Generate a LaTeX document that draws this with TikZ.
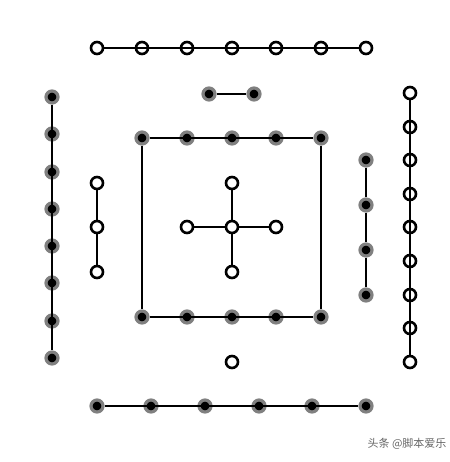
\documentclass[tikz,border=0pt]{standalone}
\usepackage{fontspec}
\newfontfamily\cjkfont{Noto Sans CJK SC}
\tikzset{
  wdot/.style={circle, draw=black, line width=2.6pt, fill=white, minimum size=12pt, inner sep=0pt},
  bdot/.style={circle, draw=black!50, line width=3.2pt, fill=black, minimum size=12pt, inner sep=0pt},
  link/.style={line width=1.4pt}
}
\begin{document}
\begin{tikzpicture}[x=1pt,y=-1pt]
\useasboundingbox (0,0) rectangle (449,462);

% top row, seven white
\foreach \x [count=\k] in {97,142,187,232,276,321,366}
  \node[wdot] (t\k) at (\x,48) {};
\draw[link] (t1) \foreach \k in {2,...,7} { -- (t\k) };

% pair of black
\node[bdot] (p1) at (209,94) {};
\node[bdot] (p2) at (254,94) {};
\draw[link] (p1) -- (p2);

% left column, eight black
\foreach \y [count=\k] in {97,134,172,209,246,283,321,358}
  \node[bdot] (l\k) at (52,\y) {};
\draw[link] (l1) \foreach \k in {2,...,8} { -- (l\k) };

% three white
\foreach \y [count=\k] in {183,227,272}
  \node[wdot] (m\k) at (97,\y) {};
\draw[link] (m1) -- (m2) -- (m3);

% square of ten black
\foreach \x [count=\k] in {142,187,232,276,321} {
  \node[bdot] (s\k) at (\x,138) {};
  \node[bdot] (u\k) at (\x,317) {};
}
\draw[link] (s1) \foreach \k in {2,...,5} { -- (s\k) };
\draw[link] (u1) \foreach \k in {2,...,5} { -- (u\k) };
\draw[link] (s1) -- (u1);
\draw[link] (s5) -- (u5);

% centre cross, five white
\node[wdot] (c) at (232,227) {};
\node[wdot] (cn) at (232,183) {};
\node[wdot] (cs) at (232,272) {};
\node[wdot] (cw) at (187,227) {};
\node[wdot] (ce) at (276,227) {};
\draw[link] (cn) -- (c) -- (cs);
\draw[link] (cw) -- (c) -- (ce);

% single white
\node[wdot] (one) at (232,362) {};

% four black
\foreach \y [count=\k] in {160,205,250,295}
  \node[bdot] (r\k) at (366,\y) {};
\draw[link] (r1) -- (r2) -- (r3) -- (r4);

% right column, nine white
\foreach \y [count=\k] in {93,127,160,194,227,261,295,328,362}
  \node[wdot] (w\k) at (410,\y) {};
\draw[link] (w1) \foreach \k in {2,...,9} { -- (w\k) };

% bottom row, six black
\foreach \x [count=\k] in {97,151,205,259,312,366}
  \node[bdot] (d\k) at (\x,406) {};
\draw[link] (d1) \foreach \k in {2,...,6} { -- (d\k) };

% watermark
\node[text=black!60, font=\cjkfont\fontsize{11}{12}\selectfont] (mark) at (407,444) {头条 @脚本爱乐};
\end{tikzpicture}
\end{document}
